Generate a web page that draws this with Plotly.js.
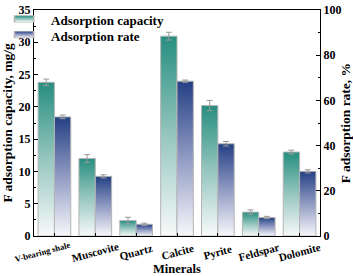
<!DOCTYPE html>
<html>
<head>
<meta charset="utf-8">
<script src="https://cdn.plot.ly/plotly-3.0.1.min.js"></script>
<style>html,body{margin:0;padding:0;background:#fff;}#chart{width:353px;height:276px;}</style>
</head>
<body>
<div id="chart"></div>
<script>
const minerals = ["V-bearing shale", "Muscovite", "Quartz", "Calcite", "Pyrite", "Feldspar", "Dolomite"];
const capacity = [23.8, 12.0, 2.4, 30.95, 20.2, 3.7, 13.0];
const capacityErr = [0.5, 0.6, 0.5, 0.6, 0.8, 0.35, 0.3];
const rate = [52.7, 26.4, 5.2, 68.5, 40.8, 8.2, 28.6];
const rateErr = [0.8, 0.7, 0.5, 0.5, 1.0, 0.5, 0.7];
const leftTicks = [0, 5, 10, 15, 20, 25, 30, 35];
const rightTicks = [0, 20, 40, 60, 80, 100];

const TEAL = "rgb(42, 145, 130)";
const BLUE = "rgb(40, 70, 140)";
const FONT = "Liberation Serif";

const traces = [
  {
    type: "bar", name: "Adsorption capacity", x: minerals, y: capacity,
    yaxis: "y", offsetgroup: "cap", alignmentgroup: "g", legend: "legend",
    marker: {color: TEAL, line: {color: "#b5b5b5", width: 1}},
    error_y: {type: "data", array: capacityErr, visible: true, color: "#9a9a9a", thickness: 1, width: 3}
  },
  {
    type: "bar", name: "Adsorption rate", x: minerals, y: rate,
    yaxis: "y2", offsetgroup: "rate", alignmentgroup: "g", legend: "legend2",
    marker: {color: BLUE, line: {color: "#b5b5b5", width: 1}},
    error_y: {type: "data", array: rateErr, visible: true, color: "#9a9a9a", thickness: 1, width: 3}
  }
];

const annotations = minerals.map((m, i) => ({
  x: m, xref: "x", y: -0.069, yref: "paper",
  text: m, showarrow: false, textangle: -15,
  xanchor: "center", yanchor: "middle",
  xshift: i === 0 ? -12 : 0,
  font: {family: FONT, size: i === 0 ? 8.5 : 11, weight: 700, color: "#000"}
}));

const legendFont = {family: FONT, size: 13, weight: 700, color: "#000"};
const layout = {
  width: 353, height: 276,
  margin: {l: 34, r: 33, t: 5, b: 40},
  paper_bgcolor: "#fff", plot_bgcolor: "#fff",
  barmode: "group", bargap: 0.2, bargroupgap: 0,
  font: {family: FONT, size: 11.5, weight: 700, color: "#000"},
  showlegend: true,
  legend: {x: -0.08, y: 1.022, xanchor: "left", yanchor: "top", bgcolor: "rgba(0,0,0,0)",
           font: legendFont, itemwidth: 30},
  legend2: {x: -0.08, y: 0.953, xanchor: "left", yanchor: "top", bgcolor: "rgba(0,0,0,0)",
           font: legendFont, itemwidth: 30},
  xaxis: {
    range: [-0.5, 6.5], autorange: false, automargin: false,
    showline: true, linecolor: "#000", linewidth: 1, mirror: true,
    ticks: "inside", ticklen: 3, tickcolor: "#000",
    showticklabels: false, showgrid: false, zeroline: false,
    title: {text: "Minerals", font: {family: FONT, size: 12.5, weight: 700}, standoff: 29}
  },
  yaxis: {
    range: [0, 35], autorange: false, automargin: false,
    tickvals: leftTicks, ticktext: leftTicks.map(String),
    showline: true, linecolor: "#000", linewidth: 1,
    ticks: "inside", ticklen: 4, tickcolor: "#000",
    minor: {dtick: 2.5, ticks: "inside", ticklen: 2, tickcolor: "#000", showgrid: false},
    showgrid: false, zeroline: false, ticklabeloverflow: "allow",
    tickfont: {family: FONT, size: 12, weight: 700},
    title: {text: "F adsorption capacity, mg/g", font: {family: FONT, size: 13.5, weight: 700}, standoff: 4}
  },
  yaxis2: {
    overlaying: "y", side: "right", range: [0, 100], autorange: false, automargin: false,
    tickvals: rightTicks, ticktext: rightTicks.map(String),
    showline: true, linecolor: "#000", linewidth: 1,
    ticks: "inside", ticklen: 4, tickcolor: "#000",
    minor: {dtick: 10, ticks: "inside", ticklen: 2, tickcolor: "#000", showgrid: false},
    showgrid: false, zeroline: false, ticklabeloverflow: "allow",
    tickfont: {family: FONT, size: 12, weight: 700},
    title: {text: "F adsorption rate, %", font: {family: FONT, size: 13.5, weight: 700}, standoff: 4}
  },
  annotations: annotations
};

function addGradients(gd) {
  const svg = gd.querySelector("svg.main-svg");
  const ns = "http://www.w3.org/2000/svg";
  let defs = svg.querySelector("defs");
  if (!defs) { defs = document.createElementNS(ns, "defs"); svg.insertBefore(defs, svg.firstChild); }
  function grad(id, stops) {
    const g = document.createElementNS(ns, "linearGradient");
    g.setAttribute("id", id);
    g.setAttribute("x1", "0"); g.setAttribute("y1", "0");
    g.setAttribute("x2", "0"); g.setAttribute("y2", "1");
    stops.forEach(([o, c]) => {
      const s = document.createElementNS(ns, "stop");
      s.setAttribute("offset", o); s.setAttribute("stop-color", c);
      g.appendChild(s);
    });
    defs.appendChild(g);
  }
  grad("gTeal", [["0", "rgb(38,142,127)"], ["0.5", "rgb(150,198,191)"], ["1", "rgb(248,250,250)"]]);
  grad("gBlue", [["0", "rgb(36,64,132)"], ["0.5", "rgb(145,155,195)"], ["1", "rgb(248,248,251)"]]);
  gd.querySelectorAll("path").forEach(p => {
    const f = p.style.fill;
    if (f === TEAL) p.style.fill = "url(#gTeal)";
    else if (f === BLUE) p.style.fill = "url(#gBlue)";
  });
  // widen legend swatches like the original (flat, wide swatch)
  gd.querySelectorAll(".legendpoints path").forEach(p => {
    p.setAttribute("transform", "translate(13,-1) scale(1.6,0.55)");
  });
}

Plotly.newPlot("chart", traces, layout, {staticPlot: true, displayModeBar: false}).then(addGradients);
</script>
</body>
</html>
